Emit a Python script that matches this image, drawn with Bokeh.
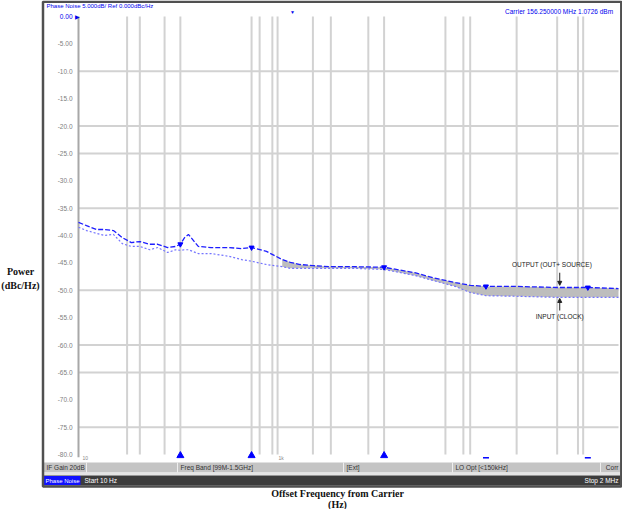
import math
from bokeh.plotting import figure
from bokeh.models import Range1d, Arrow, NormalHead
from bokeh.core.properties import value
from bokeh.embed import file_html
from bokeh.resources import INLINE

# ---------------- data ----------------
freq_hz = [10, 12, 15, 18, 22, 27, 33, 40, 50, 60, 75, 90, 100, 110, 120, 150,
           200, 300, 400, 500, 700, 1000, 1200, 1500, 2000, 3000, 5000, 10000,
           20000, 30000, 50000, 70000, 100000, 200000, 500000, 1000000, 2000000]
output_dbc = [-37.6, -38.2, -38.9, -38.9, -39.1, -40.4, -41.3, -41.1, -41.6, -41.6,
              -42.2, -42.0, -41.6, -40.4, -39.8, -42.0, -42.2, -42.2, -42.4, -42.2,
              -42.9, -44.4, -44.9, -45.3, -45.5, -45.7, -45.7, -45.8, -46.8, -47.7,
              -48.6, -49.1, -49.3, -49.3, -49.5, -49.5, -49.7]
input_dbc = [-38.5, -39.1, -39.6, -40.0, -39.8, -41.5, -42.0, -42.0, -42.6, -42.2,
             -43.1, -42.6, -42.7, -42.6, -42.6, -43.3, -43.3, -43.8, -44.4, -44.7,
             -45.3, -45.7, -46.0, -46.0, -46.0, -46.0, -46.0, -46.2, -47.3, -48.2,
             -49.3, -50.4, -51.0, -51.1, -51.3, -51.3, -51.3]
band_start_hz = 1000

marker_freqs = [100, 500, 10000, 100000, 1000000]
marker_levels = [-41.6, -42.2, -45.8, -49.3, -49.5]

freq_min, freq_max = 10, 2e6
level_min, level_max = -80, 0
y_tick_values = [0, -5, -10, -15, -20, -25, -30, -35, -40, -45, -50, -55, -60,
                 -65, -70, -75, -80]
y_tick_labels = ["0.00", "-5.00", "-10.0", "-15.0", "-20.0", "-25.0", "-30.0", "-35.0",
                 "-40.0", "-45.0", "-50.0", "-55.0", "-60.0", "-65.0", "-70.0",
                 "-75.0", "-80.0"]
y_grid_levels = [-10, -20, -25, -35, -50, -60, -65, -75]
x_grid_freqs = [30, 40, 70, 100, 500, 600, 800, 900, 2000, 3000, 7000, 10000,
                40000, 60000, 70000, 200000, 500000, 800000, 900000]
x_label_freqs = [10, 1000]
x_label_texts = ["10", "1k"]

header_left = "Phase Noise 5.000dB/ Ref 0.000dBc/Hz"
header_right = "Carrier 156.250000 MHz    1.0726 dBm"
status_items = ["IF Gain 20dB", "Freq Band [99M-1.5GHz]", "[Ext]", "LO Opt [<150kHz]", "Corr"]
start_text = "Start 10 Hz"
stop_text = "Stop 2 MHz"
y_title = ["Power", "(dBc/Hz)"]
x_title = ["Offset Frequency from Carrier", "(Hz)"]
trace_names = ["OUTPUT (OUT+ SOURCE)", "INPUT (CLOCK)"]

# ---------------- layout (pixels) ----------------
W, H = 622, 509
PL, PR, PT, PB = 78, 618, 16, 454          # plot area inside the canvas
dec_per_px = (math.log10(freq_max) - math.log10(freq_min)) / (PR - PL)
db_per_px = (level_max - level_min) / (PB - PT)
x_start = 10 ** (math.log10(freq_min) - PL * dec_per_px)
x_end = 10 ** (math.log10(freq_max) + (W - PR) * dec_per_px)
y_end = level_max + PT * db_per_px
y_start = level_min - (H - PB) * db_per_px


def fx(px):
    return 10 ** (math.log10(freq_min) + (px - PL) * dec_per_px)


def fy(py):
    return level_max - (py - PT) * db_per_px


p = figure(width=W, height=H, x_axis_type="log",
           x_range=Range1d(x_start, x_end), y_range=Range1d(y_start, y_end),
           x_axis_location=None, y_axis_location=None,
           output_backend="svg", toolbar_location=None, title=None, min_border=0)
p.outline_line_color = None
p.background_fill_color = "white"
p.border_fill_color = "white"
p.grid.visible = False

GRID = "#d2d2d2"
BLUE = "#0000ee"


def txt(xs, ys, texts, color="#222222", size="6.5px", align="left",
        font="Liberation Sans", baseline="middle", style="normal"):
    p.text(x=xs, y=ys, text=texts, text_color=color, text_font=value(font),
           text_font_size=value(size), text_align=align, text_baseline=baseline,
           text_font_style=style)


# ---------------- grid & axis ----------------
p.segment(x0=x_grid_freqs, y0=[level_min] * len(x_grid_freqs),
          x1=x_grid_freqs, y1=[level_max] * len(x_grid_freqs),
          line_color=GRID, line_width=2)
p.segment(x0=[freq_min] * len(y_grid_levels), y0=y_grid_levels,
          x1=[freq_max] * len(y_grid_levels), y1=y_grid_levels,
          line_color=GRID, line_width=2)
p.segment(x0=[freq_min], y0=[level_min - 0.5], x1=[freq_min], y1=[level_max],
          line_color="#a8a8a8", line_width=2)
txt([fx(72)] * (len(y_tick_values) - 1), y_tick_values[1:], y_tick_labels[1:],
    color="#808080", size="6.5px", align="right")
txt([fx(72)], y_tick_values[:1], y_tick_labels[:1], color=BLUE, size="6.5px", align="right")
txt([fx(79)], [level_max], ["\u25B6"], color=BLUE, size="6px", align="right")
txt([fx(82), fx(278)], [fy(457)] * 2, x_label_texts, color="#888888", size="5px")

# ---------------- traces ----------------
band_f = [f for f in freq_hz if f >= band_start_hz]
band_in = [v for f, v in zip(freq_hz, input_dbc) if f >= band_start_hz]
band_out = [v for f, v in zip(freq_hz, output_dbc) if f >= band_start_hz]
p.varea(x=band_f, y1=band_in, y2=band_out, fill_color="#bdbdbd")
p.line(freq_hz, input_dbc, line_color="#7474ff", line_width=1.2, line_dash="2 2")
p.line(freq_hz, output_dbc, line_color="#1e1eff", line_width=1.3, line_dash="5 2")

p.scatter(marker_freqs, marker_levels, marker="inverted_triangle", size=5,
          fill_color="#0000ff", line_color="#0000ff")
p.scatter(marker_freqs[:3], [level_min - 0.2] * 3, marker="triangle", size=7,
          fill_color="#0000ff", line_color="#0000ff")
p.scatter(marker_freqs[3:], [level_min - 0.6] * 2, marker="dash", size=6,
          line_color="#0000ff", line_width=1.5)

# trace annotations
txt([4.44e5], [-45.3], trace_names[:1], color="#222222", size="6.5px", align="center")
txt([5.31e5], [-54.8], trace_names[1:], color="#222222", size="6.5px", align="center")
p.add_layout(Arrow(end=NormalHead(size=4, fill_color="#222222", line_color="#222222"),
                   x_start=5.3e5, y_start=-46.8, x_end=5.3e5, y_end=-49.1,
                   line_color="#222222", line_width=1))
p.add_layout(Arrow(end=NormalHead(size=4, fill_color="#222222", line_color="#222222"),
                   x_start=5.3e5, y_start=-53.7, x_end=5.3e5, y_end=-51.5,
                   line_color="#222222", line_width=1))

# ---------------- instrument window ----------------
p.quad(left=[fx(43)] * 3, right=[fx(620)] * 3,
       top=[fy(462), fy(472), fy(475)], bottom=[fy(472), fy(475), fy(485)],
       fill_color=["#c4c4c4", "#e4e4e4", "#3c3c3c"], line_color=None)
p.quad(left=[fx(43)], right=[fx(80)], top=[fy(475.5)], bottom=[fy(484.5)],
       fill_color="#1010ff", line_color=None)
sep_px = [86, 177, 343, 452, 600]
p.segment(x0=[fx(s) for s in sep_px], y0=[fy(462)] * len(sep_px),
          x1=[fx(s) for s in sep_px], y1=[fy(472)] * len(sep_px),
          line_color="#eeeeee", line_width=1)
status_x = [46, 180, 346, 455]
txt([fx(s) for s in status_x], [fy(467)] * 4, status_items[:4], color="#333333")
txt([fx(618)], [fy(467)], status_items[4:], color="#333333", align="right")
txt([fx(45)], [fy(480)], ["Phase Noise"], color="white", size="6px")
txt([fx(84)], [fy(480)], [start_text], color="white")
txt([fx(618)], [fy(480)], [stop_text], color="white", align="right")

# frame border
p.quad(left=[fx(42.5)], right=[fx(620.8)], top=[fy(1.3)], bottom=[fy(486)],
       fill_color=None, line_color="#505050", line_width=2.5)

# header
txt([fx(46)], [fy(5.5)], [header_left], color=BLUE, size="6px")
txt([fx(618)], [fy(11)], [header_right], color=BLUE, align="right")
txt([fx(292)], [fy(11)], ["\u25BC"], color=BLUE, size="5px", align="center")

# axis titles outside the window
txt([fx(20)] * 2, [fy(271), fy(285)], y_title, color="#111111", size="10px",
    align="center", font="Liberation Serif", style="bold")
txt([fx(337)] * 2, [fy(493), fy(504)], x_title, color="#111111", size="10px",
    align="center", font="Liberation Serif", style="bold")

open("out.html", "w").write(file_html(p, INLINE))
